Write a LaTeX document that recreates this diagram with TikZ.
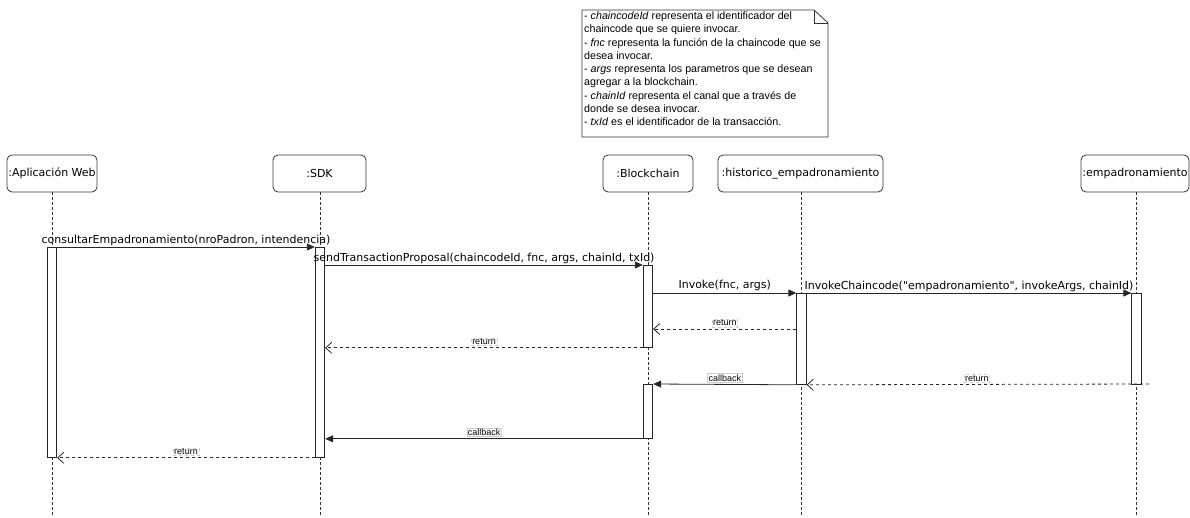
\documentclass[tikz,border=0pt]{standalone}
\usepackage{fontspec}
\setmainfont{Liberation Sans}
\newfontfamily\dvs{DejaVu Sans}
\usetikzlibrary{arrows.meta}
\tikzset{
  x=1pt, y=-1pt,
  head/.style={draw=black!80, line width=0.8pt, rounded corners=5pt, fill=white,
     inner sep=0pt, font=\dvs\fontsize{11}{13}\selectfont},
  life/.style={draw=black!80, line width=0.8pt, dash pattern=on 2.5pt off 2.5pt},
  actbar/.style={draw=black!85, line width=0.8pt, fill=white, minimum width=9.5pt, inner sep=0pt},
  callmsg/.style={draw=black!85, line width=0.8pt, -{Triangle[length=8pt,width=7pt]}},
  retmsg/.style={draw=black!85, line width=0.8pt, dash pattern=on 3pt off 3pt, -{Straight Barb[length=6pt,width=11pt]}},
  mlabel/.style={font=\dvs\fontsize{11}{13}\selectfont, inner sep=1pt, above},
  rlabel/.style={font=\fontsize{9}{10}\selectfont, inner sep=1pt, draw=black!20, line width=0.4pt, fill=white, above=2pt},
}
\begin{document}
\begin{tikzpicture}
\useasboundingbox (0,0) rectangle (1190,517);

% note
\draw[draw=black!80, line width=0.8pt, fill=white] (582,10) -- (814,10) -- (828,23) -- (828,137) -- (582,137) -- cycle;
\draw[draw=black!80, line width=0.8pt] (814,10) -- (814,23) -- (828,23);
\node[anchor=north west, align=left, inner sep=0pt, font=\fontsize{10.7}{13.3}\selectfont] (note) at (584,11.5) {%
- \textit{chaincodeId} representa el identificador del\\
chaincode que se quiere invocar.\\
- \textit{fnc} representa la función de la chaincode que se\\
desea invocar.\\
- \textit{args} representa los parametros que se desean\\
agregar a la blockchain.\\
- \textit{chainId} representa el canal que a través de\\
donde se desea invocar.\\
- \textit{txId} es el identificador de la transacción.};

% lifeline heads
\node[head, minimum width=90pt, minimum height=37pt] (app) at (52,173.5) {:Aplicación Web};
\node[head, minimum width=93pt, minimum height=37pt] (sdk) at (319.5,173.5) {:SDK};
\node[head, minimum width=90pt, minimum height=37pt] (bc) at (648,173.5) {:Blockchain};
\node[head, minimum width=165pt, minimum height=37pt] (hist) at (800.5,173.5) {:historico\_empadronamiento};
\node[head, minimum width=108pt, minimum height=37pt] (emp) at (1135,173.5) {:empadronamiento};

% lifelines
\coordinate (append) at (52,517);
\coordinate (sdkend) at (320,517);
\coordinate (bcend) at (648,517);
\coordinate (histend) at (801.5,517);
\coordinate (empend) at (1136.5,517);
\draw[life] (app.south) -- (append);
\draw[life] (sdk.south -| sdkend) -- (sdkend);
\draw[life] (bc.south) -- (bcend);
\draw[life] (hist.south -| histend) -- (histend);
\draw[life] (emp.south -| empend) -- (empend);

% activation bars
\node[actbar, anchor=north, minimum height=210pt] (appa) at (52,247) {};
\node[actbar, anchor=north, minimum height=210pt] (sdka) at (320,247) {};
\node[actbar, anchor=north, minimum height=82pt] (bca) at (648,265) {};
\node[actbar, anchor=north, minimum height=54pt] (bcb) at (648,384) {};
\node[actbar, anchor=north, minimum height=91pt] (hista) at (801.5,293) {};
\node[actbar, anchor=north, minimum height=91pt] (empa) at (1136.5,293) {};

% helper coordinates
\coordinate (r1) at (801.5,329);
\coordinate (r3) at (1149,384);

% messages
\draw[callmsg] (appa.north east) -- node[mlabel] {consultarEmpadronamiento(nroPadron, intendencia)} (sdka.north west);
\draw[callmsg] (sdka.east |- bca.north) -- node[mlabel] {sendTransactionProposal(chaincodeId, fnc, args, chainId, txId)} (bca.north west);
\draw[callmsg] (bca.east |- hista.north) -- node[mlabel, yshift=1pt] {Invoke(fnc, args)} (hista.north west);
\draw[callmsg] (hista.north east) -- node[mlabel] {InvokeChaincode("empadronamiento", invokeArgs, chainId)} (empa.north west);
\draw[retmsg] (hista.west |- r1) -- node[rlabel] {return} (bca.east |- r1);
\draw[retmsg] (bca.south west) -- node[rlabel] {return} (sdka.east |- bca.south);
\draw[callmsg] (hista.south west) -- node[rlabel] {callback} (bcb.north east);
\draw[retmsg] (r3) -- node[rlabel, xshift=-1pt] {return} (hista.south east);
\draw[callmsg] (bcb.south west) -- node[rlabel] {callback} (sdka.east |- bcb.south);
\draw[retmsg] (sdka.south west) -- node[rlabel] {return} (appa.south east);
\end{tikzpicture}
\end{document}
